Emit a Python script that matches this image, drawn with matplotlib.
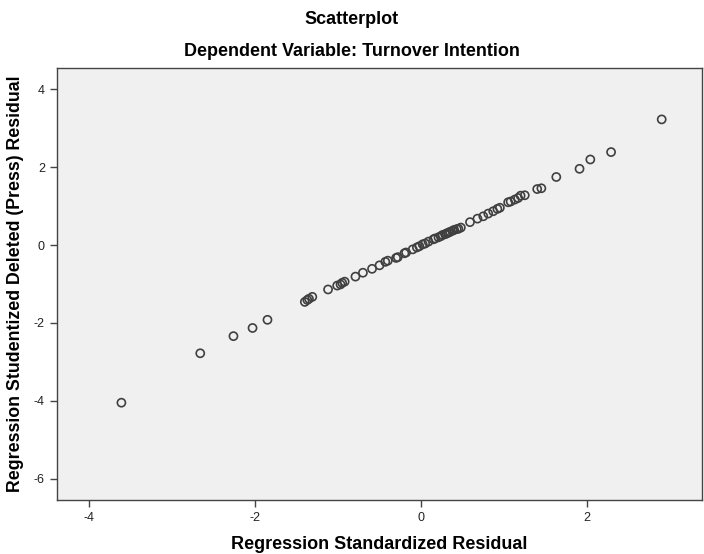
import matplotlib.pyplot as plt

# residuals
std_resid = [-3.61, -2.66, -2.26, -2.03, -1.85, -1.40, -1.37, -1.35, -1.31, -1.12,
             -1.01, -0.97, -0.95, -0.92, -0.79, -0.70, -0.59, -0.50, -0.43, -0.40,
             -0.30, -0.28, -0.20, -0.18, -0.10, -0.05, -0.02, 0.02, 0.05, 0.09,
             0.15, 0.17, 0.21, 0.24, 0.26, 0.29, 0.31, 0.33, 0.35, 0.38,
             0.40, 0.43, 0.45, 0.48, 0.59, 0.68, 0.75, 0.81, 0.87, 0.92,
             0.95, 1.05, 1.08, 1.13, 1.17, 1.20, 1.25, 1.40, 1.45, 1.63,
             1.91, 2.04, 2.29, 2.90]
press_resid = [-4.05, -2.78, -2.34, -2.13, -1.92, -1.46, -1.41, -1.38, -1.33, -1.14,
               -1.04, -1.01, -0.97, -0.94, -0.81, -0.71, -0.61, -0.52, -0.43, -0.40,
               -0.33, -0.31, -0.21, -0.19, -0.11, -0.06, -0.03, 0.02, 0.04, 0.09,
               0.15, 0.17, 0.20, 0.23, 0.26, 0.28, 0.30, 0.32, 0.34, 0.37,
               0.39, 0.41, 0.42, 0.45, 0.59, 0.68, 0.74, 0.81, 0.87, 0.93,
               0.96, 1.10, 1.12, 1.17, 1.21, 1.27, 1.28, 1.44, 1.46, 1.75,
               1.96, 2.20, 2.39, 3.23]

x_ticks = [-4, -2, 0, 2]
y_ticks = [-6, -4, -2, 0, 2, 4]

plt.rcParams['font.family'] = ['Liberation Sans', 'DejaVu Sans']
plt.rcParams['axes.unicode_minus'] = False  # SPSS uses a plain hyphen

fig = plt.figure(figsize=(7.04, 5.54), dpi=100)
ax = fig.add_axes([0.0805, 0.0975, 0.916, 0.779])
ax.set_facecolor('#f0f0f0')

ax.scatter(std_resid, press_resid, s=34, facecolors='none',
           edgecolors='#404040', linewidths=1.2)

ax.set_xlim(-4.39, 3.38)
ax.set_ylim(-6.55, 4.54)
ax.set_xticks(x_ticks)
ax.set_yticks(y_ticks)
ax.tick_params(direction='out', length=5, width=1, color='#444444',
               labelsize=9, labelcolor='#222222')
for s in ax.spines.values():
    s.set_color('#444444')
    s.set_linewidth(1)

ax.set_xlabel('Regression Standardized Residual', fontsize=13,
              fontweight='bold', labelpad=9)
ax.set_ylabel('Regression Studentized Deleted (Press) Residual', fontsize=12.8,
              fontweight='bold', labelpad=7)

# two-line SPSS style heading
fig.text(0.5, 1 - 20 / 554, 'Scatterplot', ha='center', va='center',
         fontsize=13, fontweight='bold')
fig.text(0.5, 1 - 52 / 554, 'Dependent Variable: Turnover Intention',
         ha='center', va='center', fontsize=13, fontweight='bold')

fig.savefig('out.png', dpi=100)
